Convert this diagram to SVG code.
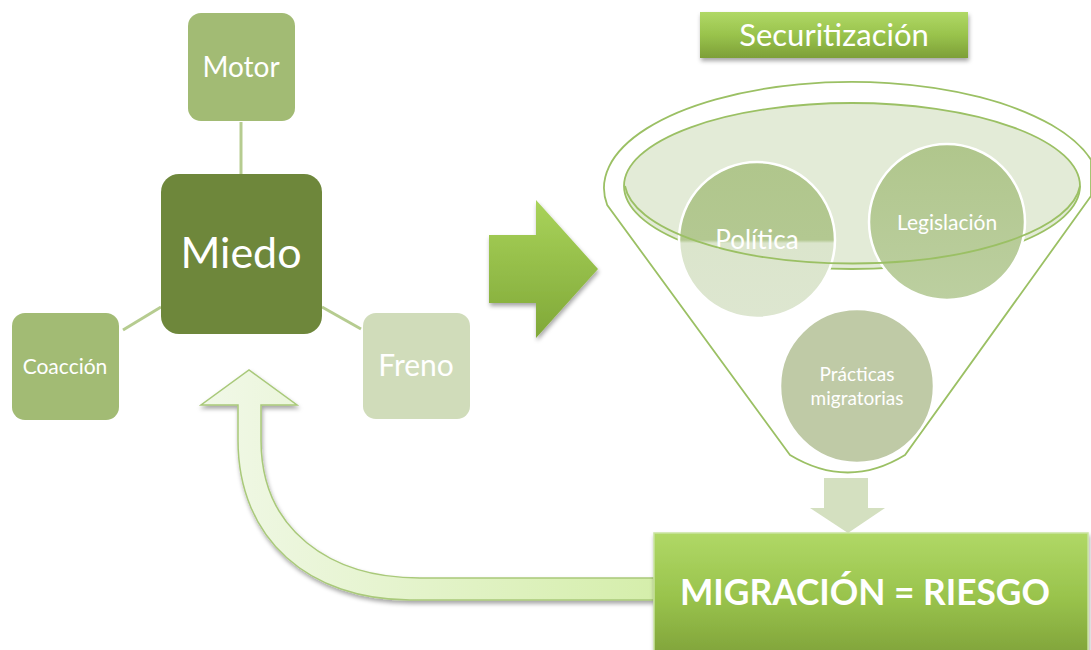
<svg xmlns="http://www.w3.org/2000/svg" width="1091" height="650" viewBox="0 0 1091 650">
<style>
.t{font-family:Lato,"Open Sans",sans-serif;fill:#ffffff;text-anchor:middle}
.conn{stroke:#b6cc90;stroke-width:3;fill:none}
.circ{stroke:#ffffff;stroke-width:2.5}
</style>
<defs>
<linearGradient id="gGreen" x1="0" y1="0" x2="0" y2="1">
<stop offset="0" stop-color="#b0d866"/>
<stop offset="0.5" stop-color="#99c34c"/>
<stop offset="1" stop-color="#7d9f38"/>
</linearGradient>
<linearGradient id="gArrow" x1="0" y1="0" x2="0" y2="1">
<stop offset="0" stop-color="#a9d35a"/>
<stop offset="1" stop-color="#80a838"/>
</linearGradient>
<linearGradient id="gCurve" x1="0" y1="0" x2="1" y2="0">
<stop offset="0" stop-color="#f1f8e8"/>
<stop offset="1" stop-color="#d5eeab"/>
</linearGradient>
<linearGradient id="gPol" x1="0" y1="0" x2="0" y2="1">
<stop offset="0" stop-color="#b0c68c"/>
<stop offset="0.5" stop-color="#b3c891"/>
<stop offset="0.52" stop-color="#dbe5cc"/>
<stop offset="1" stop-color="#dde6d0"/>
</linearGradient>
<linearGradient id="gLeg" x1="0" y1="0" x2="0" y2="1">
<stop offset="0" stop-color="#b0c68c"/>
<stop offset="1" stop-color="#bccfa0"/>
</linearGradient>
<filter id="sh" x="-10%" y="-10%" width="130%" height="140%">
<feDropShadow dx="1" dy="3" stdDeviation="2" flood-color="#000" flood-opacity="0.35"/>
</filter>
</defs>

<g id="connectors">
<line class="conn" x1="241" y1="122" x2="241" y2="174"/>
<line class="conn" x1="123" y1="330" x2="161" y2="307"/>
<line class="conn" x1="322" y1="307" x2="361" y2="329"/>
<path id="arrow-right" d="M489 235 H536 V200 L598 269 L536 338 V303 H489 Z" fill="url(#gArrow)" filter="url(#sh)"/>
<path id="arrow-down" d="M824 478 H868 V508 H885 L848 533 L810 508 H824 Z" fill="#d4e0c0"/>
<path id="arrow-curve" d="M654 578 L420 578 C330 578 261 530 261 440 L261 405 L297 405 L249 370 L201 405 L238 405 L238 440 C238 540 310 600 410 600 L654 600 Z" fill="url(#gCurve)" stroke="#a9c97a" stroke-width="1.5" filter="url(#sh)"/>
</g>

<g id="node-motor">
<rect x="188" y="13" width="107" height="108" rx="13" fill="#a2bb74"/>
<text class="t" x="241" y="77" font-size="28">Motor</text>
</g>
<g id="node-miedo">
<rect x="161" y="174" width="161" height="160" rx="18" fill="#6e873b"/>
<text class="t" x="241" y="268" font-size="43">Miedo</text>
</g>
<g id="node-coaccion">
<rect x="12" y="313" width="107" height="107" rx="13" fill="#a2bb74"/>
<text class="t" x="65" y="374" font-size="21">Coacción</text>
</g>
<g id="node-freno">
<rect x="363" y="313" width="107" height="106" rx="13" fill="#d0dcba"/>
<text class="t" x="416" y="376" font-size="30">Freno</text>
</g>

<g id="node-securitizacion">
<rect x="700" y="12" width="268" height="46" fill="url(#gGreen)" filter="url(#sh)"/>
<text class="t" x="834" y="46" font-size="31">Securitización</text>
</g>

<g id="node-funnel">
<path d="M790 455 L607.2 205 A248 106 0 0 1 1091 159.7 L1091 196 L905 455 Q848 490 790 455 Z" fill="#ffffff" stroke="#9bc064" stroke-width="1.8"/>
<ellipse cx="852" cy="186" rx="228" ry="83" fill="#e3ebd7" stroke="#9bc064" stroke-width="1.8"/>
</g>

<g id="node-politica">
<circle class="circ" cx="757" cy="240" r="78" fill="url(#gPol)"/>
<text class="t" x="757" y="249" font-size="26">Política</text>
</g>
<g id="node-legislacion">
<circle class="circ" cx="947" cy="222" r="78" fill="url(#gLeg)"/>
<text class="t" x="947" y="230" font-size="21">Legislación</text>
</g>
<path d="M625 186 A228 83 0 0 0 1080 186" fill="none" stroke="#9bc064" stroke-width="1.8"/>
<g id="node-practicas">
<circle class="circ" cx="857" cy="386" r="77" fill="#bfcaa6"/>
<text class="t" x="857" y="381" font-size="19" fill="#f3f3ea">Prácticas</text>
<text class="t" x="857" y="405" font-size="19" fill="#f3f3ea">migratorias</text>
</g>

<g id="node-migracion">
<rect x="654" y="533" width="434" height="130" fill="url(#gGreen)" stroke="#c9e3a0" stroke-width="1.5" filter="url(#sh)"/>
<text class="t" x="865" y="605" font-size="37" font-weight="bold" textLength="370" lengthAdjust="spacingAndGlyphs">MIGRACIÓN = RIESGO</text>
</g>
</svg>
